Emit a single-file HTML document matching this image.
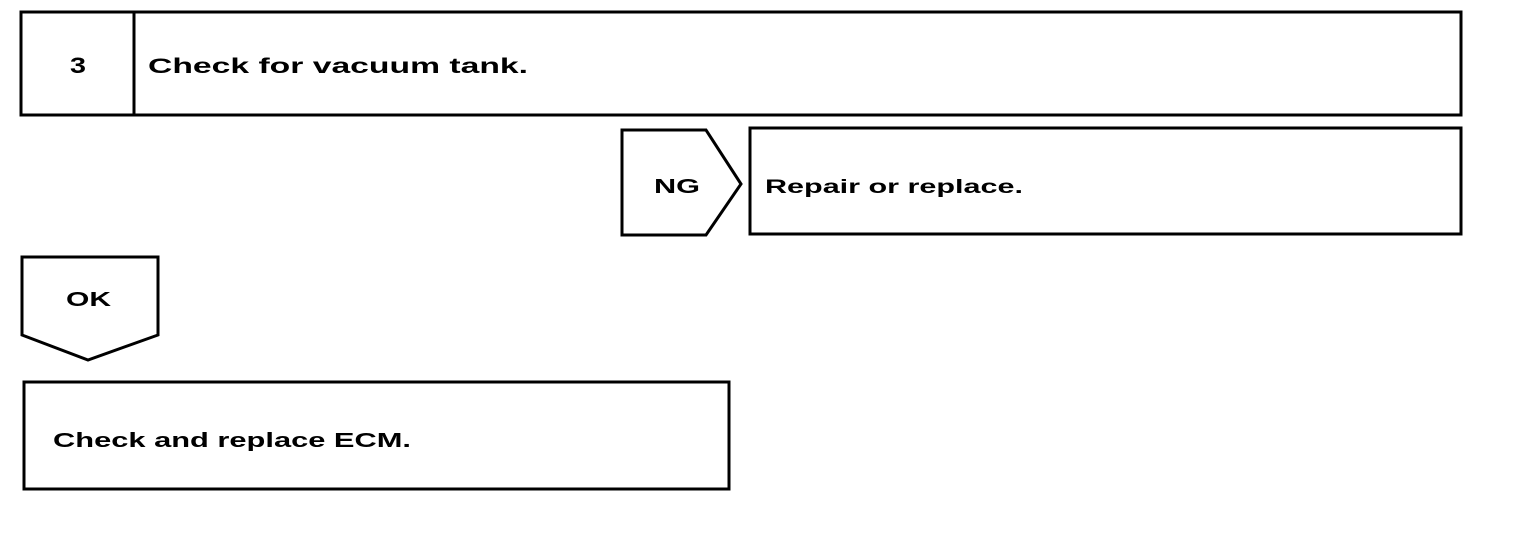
<!DOCTYPE html>
<html><head><style>
body{margin:0;background:#fff;width:1536px;height:540px;overflow:hidden}
svg{display:block}
text{font-family:"Liberation Sans",Arial,sans-serif;font-weight:bold;fill:#000}
</style></head><body>
<svg width="1536" height="540" viewBox="0 0 1536 540" fill="none" stroke="#000" stroke-width="3">
<rect x="21" y="12" width="1440" height="103"/>
<line x1="134" y1="12" x2="134" y2="115"/>
<text x="70" y="73" style="font-size:22px" stroke="none" textLength="16" lengthAdjust="spacingAndGlyphs">3</text>
<text x="148" y="73" style="font-size:21px" stroke="none" textLength="380" lengthAdjust="spacingAndGlyphs">Check for vacuum tank.</text>
<polygon points="622,130 706,130 741,184 706,235 622,235"/>
<text x="654" y="193" style="font-size:20px" stroke="none" textLength="46" lengthAdjust="spacingAndGlyphs">NG</text>
<rect x="750" y="128" width="711" height="106"/>
<text x="765" y="193" style="font-size:19px" stroke="none" textLength="258" lengthAdjust="spacingAndGlyphs">Repair or replace.</text>
<polygon points="22,257 158,257 158,335 88,360 22,335"/>
<text x="66" y="306" style="font-size:20px" stroke="none" textLength="45" lengthAdjust="spacingAndGlyphs">OK</text>
<rect x="24" y="382" width="705" height="107"/>
<text x="53" y="447" style="font-size:20px" stroke="none" textLength="358" lengthAdjust="spacingAndGlyphs">Check and replace ECM.</text>
</svg>
</body></html>
